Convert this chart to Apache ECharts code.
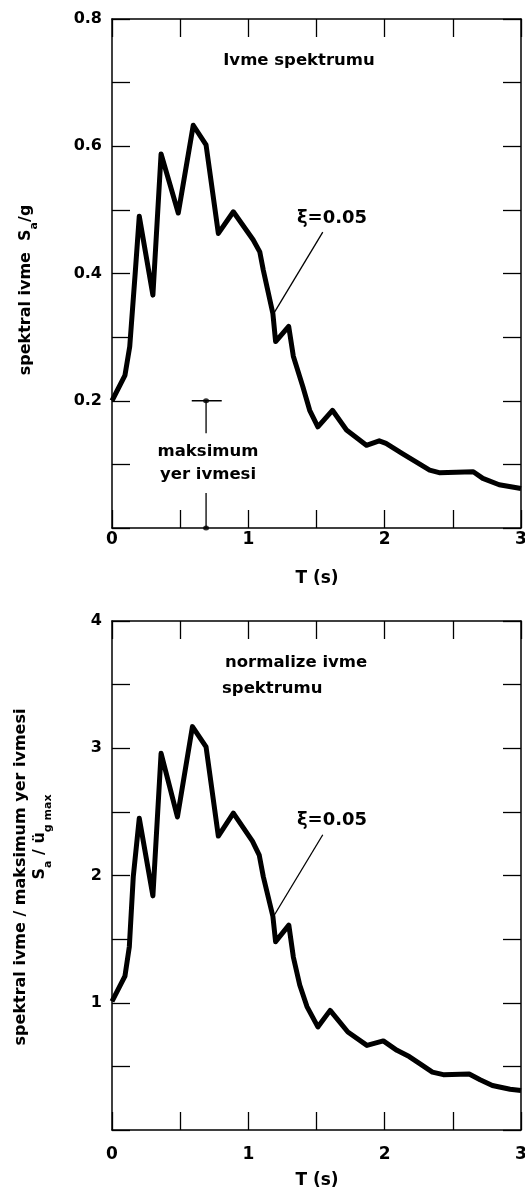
<!DOCTYPE html>
<html><head><meta charset="utf-8">
<script src="https://cdn.jsdelivr.net/npm/echarts@6/dist/echarts.min.js"></script>
<style>html,body{margin:0;padding:0;background:#fff}#c{width:525px;height:1195px}</style>
</head><body><div id="c"></div>
<script>
// ---- data ----
const xTickLabels = ['0', '1', '2', '3'];
const yTickLabelsTop = ['0.2', '0.4', '0.6', '0.8'];
const yTickLabelsBottom = ['1', '2', '3', '4'];

// upper panel: spectral acceleration Sa/g
const periodTop = [0, 0.095, 0.13, 0.17, 0.2, 0.30, 0.36, 0.486, 0.596, 0.69, 0.78, 0.89, 1.035, 1.084, 1.11, 1.18, 1.20, 1.296, 1.33, 1.40, 1.45, 1.51, 1.617, 1.72, 1.866, 1.96, 2.01, 2.13, 2.23, 2.33, 2.40, 2.65, 2.72, 2.84, 3.0];
const saTop = [0.2, 0.24, 0.285, 0.40, 0.49, 0.366, 0.588, 0.495, 0.633, 0.602, 0.463, 0.497, 0.453, 0.434, 0.405, 0.337, 0.293, 0.317, 0.27, 0.222, 0.185, 0.159, 0.185, 0.154, 0.130, 0.137, 0.133, 0.117, 0.104, 0.091, 0.087, 0.0885, 0.078, 0.068, 0.062];

// lower panel: normalised spectrum Sa / ug max
const periodBottom = [0, 0.095, 0.127, 0.156, 0.2, 0.30, 0.36, 0.48, 0.59, 0.69, 0.78, 0.89, 1.03, 1.08, 1.11, 1.18, 1.20, 1.297, 1.33, 1.377, 1.43, 1.51, 1.60, 1.73, 1.87, 1.99, 2.09, 2.18, 2.26, 2.35, 2.43, 2.62, 2.70, 2.79, 2.92, 3.0];
const saBottom = [1.01, 1.21, 1.44, 1.99, 2.45, 1.84, 2.96, 2.46, 3.17, 3.01, 2.31, 2.49, 2.27, 2.16, 1.99, 1.68, 1.48, 1.61, 1.36, 1.14, 0.97, 0.81, 0.94, 0.77, 0.665, 0.70, 0.626, 0.577, 0.52, 0.455, 0.435, 0.44, 0.395, 0.35, 0.32, 0.31];

// peak ground acceleration marker (upper panel)
const pgaPeriod = 0.69;
const pgaValue = 0.2;
const pgaBar = [0.585, 0.805];
const pgaStemUpper = [0.2, 0.149];
const pgaStemLower = [0.055, 0];

// leader lines for the damping label
const leaderTop = [[1.546, 0.465], [1.18, 0.335]];
const leaderBottom = [[1.546, 2.32], [1.18, 1.67]];

// ---- build ----
const FONT = 'DejaVu Sans';
const zip = (xs, ys) => xs.map((x, i) => [x, ys[i]]);
const black = '#000';

function xAxes(grid, labelMargin) {
  const base = {
    type: 'value', gridIndex: grid, min: 0, max: 3, interval: 0.5,
    axisLine: { show: true, onZero: false, lineStyle: { color: black, width: 1.5 } },
    axisTick: { show: true, inside: true, length: 18, lineStyle: { color: black, width: 1.3 } },
    splitLine: { show: false }
  };
  return [
    Object.assign({}, base, {
      position: 'bottom',
      axisLabel: {
        show: true, margin: labelMargin, showMinLabel: true, showMaxLabel: true, hideOverlap: false,
        color: black, fontFamily: FONT, fontWeight: 'bold', fontSize: 17,
        formatter: v => { const s = String(Math.round(v * 2) / 2); return xTickLabels.includes(s) ? s : ''; }
      }
    }),
    Object.assign({}, base, { position: 'top', axisLabel: { show: false } })
  ];
}

function yAxes(grid, max, interval, labels) {
  const base = {
    type: 'value', gridIndex: grid, min: 0, max: max, interval: interval,
    axisLine: { show: true, onZero: false, lineStyle: { color: black, width: 1.5 } },
    axisTick: { show: true, inside: true, length: 18, lineStyle: { color: black, width: 1.3 } },
    splitLine: { show: false }
  };
  return [
    Object.assign({}, base, {
      position: 'left',
      axisLabel: {
        show: true, margin: 10, showMinLabel: true, showMaxLabel: true,
        color: black, fontFamily: FONT, fontWeight: 'bold', fontSize: 16,
        formatter: v => {
          for (const s of labels) { if (Math.abs(parseFloat(s) - v) < 1e-6) return s; }
          return '';
        }
      }
    }),
    Object.assign({}, base, { position: 'right', axisLabel: { show: false } })
  ];
}

function thin(name, xi, yi, data, w) {
  return {
    name: name, type: 'line', xAxisIndex: xi, yAxisIndex: yi, data: data,
    symbol: 'none', silent: true, animation: false, z: 3,
    lineStyle: { color: black, width: w || 1.2 }
  };
}

const txt = (x, y, text, size, align, extra) => Object.assign({
  type: 'text', x: x, y: y, silent: true,
  style: { text: text, fill: black, fontFamily: FONT, fontWeight: 'bold', fontSize: size, align: align || 'center', verticalAlign: 'middle' }
}, extra || {});

const richTitle = {
  b: { fontFamily: FONT, fontWeight: 'bold', fontSize: 16, lineHeight: 20, color: black },
  sub: { fontFamily: FONT, fontWeight: 'bold', fontSize: 11, lineHeight: 20, verticalAlign: 'bottom', padding: [0, 0, -4, 0], color: black }
};

const option = {
  backgroundColor: '#fff',
  animation: false,
  grid: [
    { left: 112, right: 4, top: 19, height: 509, containLabel: false, outerBoundsMode: 'none' },
    { left: 112, right: 4, top: 621, height: 509, containLabel: false, outerBoundsMode: 'none' }
  ],
  xAxis: [].concat(xAxes(0, 3), xAxes(1, 16)),
  yAxis: [].concat(yAxes(0, 0.8, 0.1, yTickLabelsTop), yAxes(1, 4, 0.5, yTickLabelsBottom)),
  series: [
    {
      name: 'Sa/g', type: 'line', xAxisIndex: 0, yAxisIndex: 0,
      data: zip(periodTop, saTop), symbol: 'none', z: 5,
      lineStyle: { color: black, width: 5, join: 'round' }
    },
    {
      name: 'Sa/ug', type: 'line', xAxisIndex: 2, yAxisIndex: 2,
      data: zip(periodBottom, saBottom), symbol: 'none', z: 5,
      lineStyle: { color: black, width: 5, join: 'round' }
    },
    thin('leaderTop', 0, 0, leaderTop, 1.3),
    thin('leaderBottom', 2, 2, leaderBottom, 1.3),
    thin('pgaBar', 0, 0, pgaBar.map(x => [x, pgaValue]), 1.3),
    thin('pgaStem1', 0, 0, pgaStemUpper.map(y => [pgaPeriod, y]), 1.3),
    thin('pgaStem2', 0, 0, pgaStemLower.map(y => [pgaPeriod, y]), 1.3),
    {
      name: 'pga', type: 'scatter', xAxisIndex: 0, yAxisIndex: 0,
      data: [[pgaPeriod, pgaValue], [pgaPeriod, 0]], symbol: 'circle', symbolSize: [6, 5],
      itemStyle: { color: black }, silent: true, z: 6
    }
  ],
  graphic: [
    txt(299, 61, 'Ivme spektrumu', 16.5),
    txt(332, 218, 'ξ=0.05', 18),
    txt(208, 452, 'maksimum', 16.5),
    txt(208, 475, 'yer ivmesi', 16.5),
    txt(317, 579, 'T (s)', 17),
    txt(225, 663, 'normalize ivme', 16.5, 'left'),
    txt(222, 689, 'spektrumu', 16.5, 'left'),
    txt(332, 820, 'ξ=0.05', 18),
    txt(317, 1181, 'T (s)', 17),
    {
      type: 'text', x: 26, y: 290, rotation: Math.PI / 2, silent: true,
      style: { text: '{b|spektral ivme  S}{sub|a}{b|/g}', rich: richTitle, align: 'center', verticalAlign: 'middle' }
    },
    {
      type: 'text', x: 21, y: 877, rotation: Math.PI / 2, silent: true,
      style: { text: '{b|spektral ivme / maksimum yer ivmesi}', rich: richTitle, align: 'center', verticalAlign: 'middle' }
    },
    {
      type: 'text', x: 40, y: 837, rotation: Math.PI / 2, silent: true,
      style: { text: '{b|S}{sub|a}{b| / ü}{sub|g max}', rich: richTitle, align: 'center', verticalAlign: 'middle' }
    }
  ]
};

const chart = echarts.init(document.getElementById('c'), null, { renderer: 'canvas', width: 525, height: 1195 });
chart.setOption(option);
</script></body></html>
